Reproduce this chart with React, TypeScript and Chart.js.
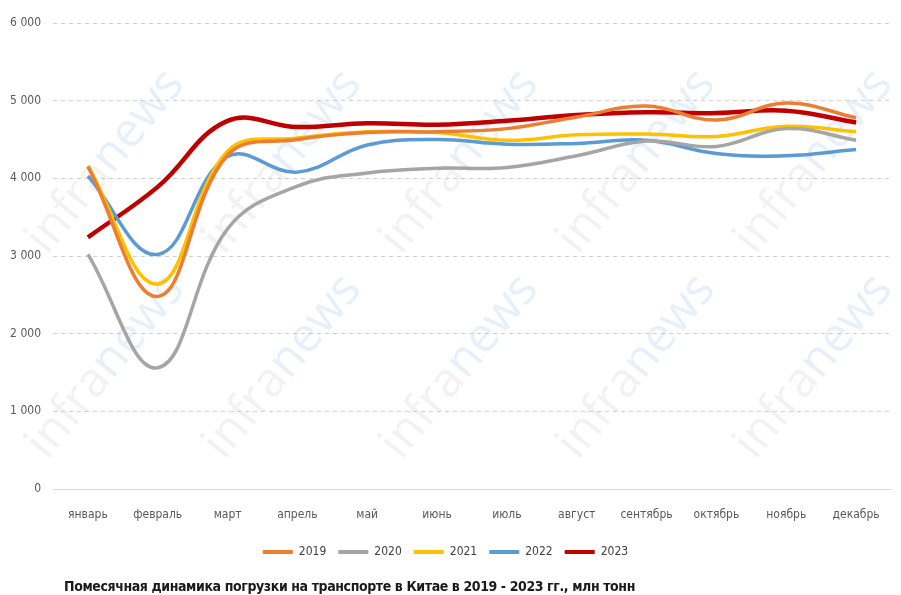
import React, { useEffect, useRef } from "react";
import { Chart, registerables } from "chart.js";

Chart.register(...registerables);

const months = ["январь", "февраль", "март", "апрель", "май", "июнь", "июль", "август", "сентябрь", "октябрь", "ноябрь", "декабрь"];
const years = ["2019", "2020", "2021", "2022", "2023"];
const v2019 = [4150, 2480, 4300, 4500, 4590, 4600, 4640, 4790, 4930, 4750, 4970, 4780];
const v2020 = [3020, 1560, 3350, 3900, 4070, 4130, 4140, 4290, 4480, 4410, 4640, 4490];
const v2021 = [4160, 2640, 4350, 4520, 4600, 4590, 4490, 4560, 4570, 4540, 4670, 4600];
const v2022 = [4030, 3020, 4280, 4080, 4430, 4500, 4440, 4450, 4490, 4320, 4290, 4370];
const v2023 = [3240, 3890, 4740, 4660, 4710, 4690, 4740, 4815, 4850, 4840, 4870, 4720];
const yTicks = [0, 1000, 2000, 3000, 4000, 5000, 6000];
const titleText = "Помесячная динамика погрузки на транспорте в Китае в 2019 - 2023 гг., млн тонн";
const watermark = ["infra", "news"];

const colors = ["#ED7D31", "#A5A5A5", "#FFC000", "#5B9BD5", "#C00000"];
const widths = [3.5, 3.5, 3.5, 3.5, 4.5];
const FONT = "'Liberation Sans Narrow', 'DejaVu Sans Condensed', 'Roboto', sans-serif";

const watermarkPlugin = {
  id: "wm",
  beforeDatasetsDraw(chart: any) {
    const ctx = chart.ctx;
    ctx.save();
    ctx.font = `48px 'Open Sans', sans-serif`;
    const w1 = ctx.measureText(watermark[0]).width;
    for (let r = 0; r < 2; r++) {
      for (let c = 0; c < 5; c++) {
        const x = 47 + c * 177;
        const y = 256 + r * 205;
        ctx.save();
        ctx.translate(x, y);
        ctx.rotate(-0.89);
        ctx.textBaseline = "alphabetic";
        ctx.fillStyle = "rgba(190,190,190,0.2)";
        ctx.fillText(watermark[0], 0, 0);
        ctx.fillStyle = "rgba(140,185,230,0.22)";
        ctx.fillText(watermark[1], w1, 0);
        ctx.restore();
      }
    }
    ctx.restore();
  },
};

export default function App() {
  const ref = useRef<HTMLCanvasElement>(null);
  useEffect(() => {
    if (!ref.current) return;
    const series = [v2019, v2020, v2021, v2022, v2023];
    const chart = new Chart(ref.current, {
      type: "line",
      data: {
        labels: months,
        datasets: years.map((y, i) => ({
          label: y,
          data: series[i],
          borderColor: colors[i],
          backgroundColor: colors[i],
          borderWidth: widths[i],
          pointRadius: 0,
          tension: 0.4,
          fill: false,
        })),
      },
      plugins: [watermarkPlugin],
      options: {
        animation: false,
        responsive: false,
        maintainAspectRatio: false,
        layout: { padding: { left: 0, right: 10, top: 23, bottom: 27 } },
        plugins: {
          tooltip: { enabled: false },
          title: { display: false },
          legend: {
            position: "bottom",
            labels: {
              font: { family: FONT, size: 12 },
              color: "#404040",
              boxWidth: 30,
              boxHeight: 4,
              padding: 12,
              generateLabels: (ch: any) =>
                ch.data.datasets.map((d: any, i: number) => ({
                  text: d.label,
                  fillStyle: d.borderColor,
                  strokeStyle: d.borderColor,
                  lineWidth: 0,
                  hidden: false,
                  datasetIndex: i,
                  fontColor: "#404040",
                })),
            },
          },
        },
        scales: {
          x: {
            offset: true,
            grid: { display: false, offset: true },
            border: { display: true, color: "#d9d9d9", width: 1 },
            ticks: { font: { family: FONT, size: 12 }, color: "#595959", padding: 11, maxRotation: 0, autoSkip: false },
            afterFit: (s: any) => { s.height = 45; },
          },
          y: {
            min: 0,
            max: 6000,
            afterBuildTicks: (s: any) => { s.ticks = yTicks.map((v) => ({ value: v })); },
            grid: {
              color: (c: any) => (c.tick && c.tick.value === 0 ? "rgba(0,0,0,0)" : "#d0d0d0"),
              drawTicks: false,
            },
            border: { display: false, dash: [4, 4] },
            ticks: {
              font: { family: FONT, size: 12 },
              color: "#595959",
              padding: 12,
              callback: (v: any) => String(v).replace(/\B(?=(\d{3})+(?!\d))/g, " "),
            },
            afterFit: (s: any) => { s.width = 53; },
          },
        },
      } as any,
    });
    return () => chart.destroy();
  }, []);
  return (
    <div style={{ position: "fixed", left: 0, top: 0, width: 901, height: 595, background: "#fff" }}>
      <canvas ref={ref} width={901} height={595} style={{ position: "absolute", left: 0, top: 0 }} />
      <div
        style={{
          position: "absolute",
          left: 64,
          top: 577,
          fontFamily: FONT,
          fontWeight: "bold",
          fontSize: 14,
          letterSpacing: "-0.4px",
          color: "#1a1a1a",
          whiteSpace: "nowrap",
          lineHeight: "18px",
        }}
      >
        {titleText}
      </div>
    </div>
  );
}
